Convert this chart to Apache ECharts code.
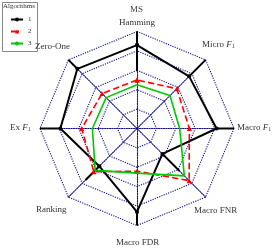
<!DOCTYPE html>
<html><head><meta charset="utf-8">
<script src="https://cdn.jsdelivr.net/npm/echarts@6/dist/echarts.min.js"></script>
<style>html,body{margin:0;padding:0;background:#fff}#c{width:274px;height:249px}</style>
</head><body><div id="c"></div>
<script>
// indicators go counter-clockwise from the top
const indicators = ['Hamming','Zero-One','Ex F1','Ranking','Macro FDR','Macro FNR','Macro F1','Micro F1'];
const angles = [0,45,90,135,180,225,270,315];
const series1 = [0.86,0.87,0.79,0.55,0.86,0.37,0.82,0.76];
const series2 = [0.50,0.51,0.57,0.63,0.44,0.76,0.54,0.58];
const series3 = [0.45,0.45,0.46,0.61,0.46,0.69,0.44,0.48];
const range1Low  = [0.59,0.87,0.79,0.55,0.86,0.37,0.82,0.76];
const range1High = [1.00,1.00,1.00,0.75,1.00,0.62,1.00,1.00];
const legendNames = ['1','2','3'];

const C = [137,128.5], R = 97;
const FONT = 'Liberation Serif';
const closed = arr => arr.map((v,i)=>[v,angles[i]]).concat([[arr[0],360]]);
const rangeData = [];
range1Low.forEach((lo,i)=>{ rangeData.push([lo,angles[i]],[range1High[i],angles[i]],['-','-']); });

const grid = {color:'#10108a', type:[1.2,1.2], width:1.1};
const lab = (x,y,rich) => ({type:'text', left:x, top:y, style:{text:rich, font:'9px '+FONT, fill:'#333',
  rich:{n:{fontSize:9,fontFamily:FONT,fill:'#333'},i:{fontSize:9,fontFamily:FONT,fontStyle:'italic',fill:'#333'},s:{fontSize:6,fontFamily:FONT,fill:'#333',verticalAlign:'bottom',padding:[4,0,0,0]}}}});

const chart = echarts.init(document.getElementById('c'));
chart.setOption({
  animation:false,
  radar:{center:C, radius:R, startAngle:90, shape:'polygon', splitNumber:5,
    indicator: indicators.map(n=>({name:n,min:0,max:1})),
    axisName:{show:false}, splitArea:{show:false},
    splitLine:{lineStyle:grid}, axisLine:{lineStyle:grid}, axisTick:{show:false}},
  polar:{center:C, radius:R},
  angleAxis:{type:'value', min:0, max:360, startAngle:90, clockwise:false, show:false},
  radiusAxis:{min:0, max:1, show:false},
  legend:{data:legendNames, orient:'vertical', left:10, top:16, padding:0, itemWidth:12, itemHeight:5, itemGap:5,
    textStyle:{fontSize:7, fontFamily:FONT, color:'#333'}},
  series:[
    {name:'1r', type:'line', coordinateSystem:'polar', data:rangeData, symbol:'none', lineStyle:{color:'#000',width:2}, z:3},
    {name:'1', type:'line', coordinateSystem:'polar', data:closed(series1), symbol:'circle', symbolSize:4,
      itemStyle:{color:'#000'}, lineStyle:{color:'#000',width:2}, z:4},
    {name:'2', type:'line', coordinateSystem:'polar', data:closed(series2), symbol:'triangle', symbolSize:5,
      itemStyle:{color:'#ff0000'}, lineStyle:{color:'#ff0000',width:1.6,type:'dashed'}, z:5},
    {name:'3', type:'line', coordinateSystem:'polar', data:closed(series3), symbol:'none',
      itemStyle:{color:'#00c800'}, lineStyle:{color:'#00c800',width:1.6}, z:6}
  ],
  graphic:[
    {type:'rect', left:2, top:2, shape:{width:35,height:49}, style:{fill:'#fff', stroke:'#888', lineWidth:1}, z:0},
    {type:'text', left:3, top:3, style:{text:'Algorithms', font:'7px '+FONT, fill:'#333'}, z:10},
    {type:'text', left:130, top:5, style:{text:'MS', font:'9px '+FONT, fill:'#444'}},
    lab(119,18,'{n|Hamming}'),
    lab(202,40,'{n|Micro }{i|F}{s|1}'),
    lab(237,123,'{n|Macro }{i|F}{s|1}'),
    lab(194,206,'{n|Macro FNR}'),
    lab(116,238,'{n|Macro FDR}'),
    lab(36,205,'{n|Ranking}'),
    lab(10,123,'{n|Ex }{i|F}{s|1}'),
    lab(35,42,'{n|Zero-One}')
  ]
});
</script></body></html>
